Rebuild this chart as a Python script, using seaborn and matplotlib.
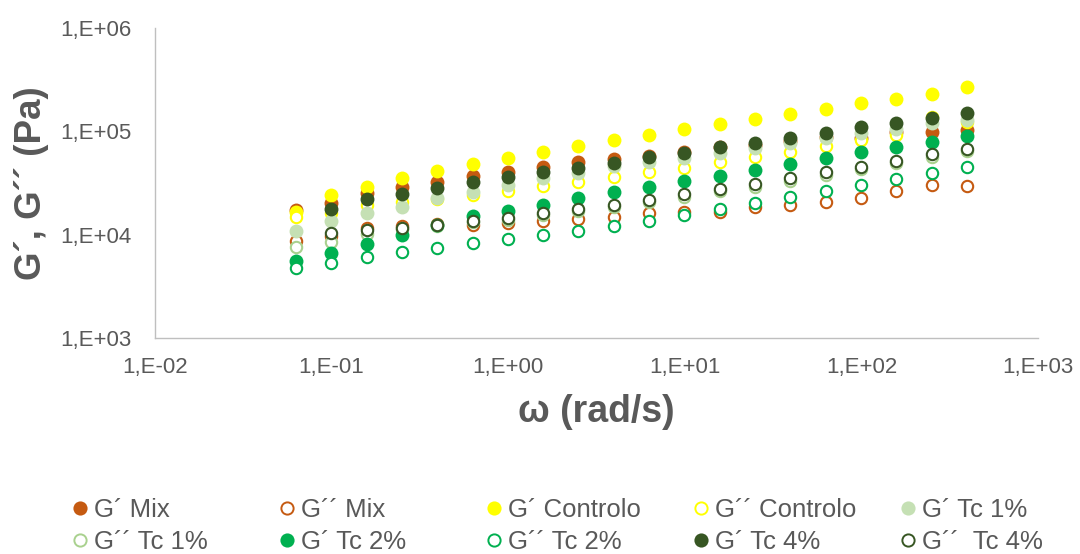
import numpy as np
import pandas as pd
import matplotlib
matplotlib.use("Agg")
import matplotlib.pyplot as plt
from matplotlib.lines import Line2D
from matplotlib.ticker import LogLocator, FuncFormatter, NullFormatter
import seaborn as sns

nan = np.nan

# Angular frequency sweep (rad/s)
omega = [0.0628, 0.0995, 0.158, 0.250, 0.396, 0.628, 0.995, 1.58, 2.50, 3.96,
         6.28, 9.95, 15.8, 25.0, 39.6, 62.8, 99.5, 158, 250, 396]

# Storage (G´) and loss (G´´) moduli, Pa
g1_mix = [17500, 20400, 25100, 29100, 32500, 36900, 40600, 44800, 50800, 54000,
          57700, 63000, 70500, 73700, 80500, 88100, 86100, 98400, 99100, 103000]
g2_mix = [8670, 9690, 11600, 12100, 12700, 12400, 12900, 13600, 14100, 14900,
          16100, 16400, 16700, 18600, 19400, 20800, 22700, 26600, 30200, 29700]
g1_ctrl = [16700, 24200, 28700, 35100, 41300, 47900, 55500, 63500, 72100, 82400,
           92100, 104500, 117700, 131500, 146900, 164400, 186700, 204200, 229600, 266700]
g2_ctrl = [14700, 16200, 19400, 20800, 22000, 24200, 26600, 29500, 32500, 35900,
           40100, 44500, 50100, 56800, 63500, 72100, 82400, 92100, 138400, 123900]
g1_tc1 = [10900, 13600, 16300, 18600, 22700, 25600, 30200, 35300, 39400, 46100,
          50800, 55200, 62100, 68900, 77100, 86100, 95700, 104500, 120300, 128600]
g2_tc1 = [7630, 8530, 10100, 11300, 12100, 13200, 13800, 15500, 16900, 18500,
          20700, 23100, 26400, 29200, 33000, 37800, 43200, 49300, 57000, 64400]
g1_tc2 = [5590, 6680, 8050, 9910, 12400, 15100, 17000, 19400, 22400, 26000,
          29100, 33000, 37200, 42200, 48200, 54800, 63500, 71000, 79300, 90600]
g2_tc2 = [4720, 5350, 6110, 6830, 7470, 8240, 9000, 9910, 10900, 12100,
          13600, 15500, 17600, 20100, 23000, 26400, 30200, 34300, 39700, 45400]
g1_tc4 = [nan, 17600, 22000, 24700, 28100, 32100, 36400, 40100, 44500, 49700,
          56000, 62100, 70000, 77600, 86700, 95700, 109300, 121100, 133600, 149300]
g2_tc4 = [nan, 10400, 11100, 11700, 12400, 13500, 14400, 16100, 17600, 19400,
          21600, 24500, 27600, 30900, 35100, 40100, 45400, 51900, 60300, 67400]

labels = ["G´ Mix", "G´´ Mix", "G´ Controlo", "G´´ Controlo", "G´ Tc 1%",
          "G´´ Tc 1%", "G´ Tc 2%", "G´´ Tc 2%", "G´ Tc 4%", "G´´  Tc 4%"]
values = [g1_mix, g2_mix, g1_ctrl, g2_ctrl, g1_tc1, g2_tc1, g1_tc2, g2_tc2, g1_tc4, g2_tc4]
colors = ["#C55A11", "#C55A11", "#FFFF00", "#FFFF00", "#C5E0B4",
          "#A9D18E", "#00B050", "#00B050", "#375623", "#375623"]
filled = [True, False, True, False, True, False, True, False, True, False]

df = pd.concat(
    [pd.DataFrame({"omega": omega, "G": v, "serie": lab}) for lab, v in zip(labels, values)],
    ignore_index=True,
)

sns.set_style("white")
plt.rcParams["font.family"] = ["Liberation Sans", "DejaVu Sans"]
TXT = "#595959"
AX = "#BFBFBF"

fig = plt.figure(figsize=(10.8, 5.54), dpi=100)
ax = fig.add_axes([155 / 1080, 1 - 338 / 554, 883 / 1080, 310 / 554])

for i, (lab, col, fill) in enumerate(zip(labels, colors, filled)):
    sub = df[df["serie"] == lab]
    if fill:
        sns.scatterplot(data=sub, x="omega", y="G", ax=ax, s=100, color=col,
                        edgecolor=col, linewidth=0, legend=False, zorder=3 + i)
    else:
        sns.scatterplot(data=sub, x="omega", y="G", ax=ax, s=67, color="white",
                        edgecolor=col, linewidth=1.5, legend=False, zorder=3 + i)

ax.set_xscale("log")
ax.set_yscale("log")
ax.set_xlim(1e-2, 1e3)
ax.set_ylim(1e3, 1e6)


def excel_sci(v, pos):
    k = int(round(np.log10(v)))
    return f"1,E{k:+03d}"


for axis in (ax.xaxis, ax.yaxis):
    axis.set_major_locator(LogLocator(base=10, numticks=20))
    axis.set_minor_locator(LogLocator(base=10, subs=np.arange(2, 10), numticks=20))
    axis.set_major_formatter(FuncFormatter(excel_sci))
    axis.set_minor_formatter(NullFormatter())

ax.tick_params(axis="both", which="both", direction="in", color=AX, width=0.9,
               labelcolor=TXT, labelsize=16)
ax.tick_params(axis="both", which="major", length=3.6)
ax.tick_params(axis="both", which="minor", length=2.4)
ax.tick_params(axis="y", which="major", pad=17)
ax.tick_params(axis="x", which="major", pad=13.5)
ax.tick_params(top=False, right=False, which="both")

for side in ("top", "right"):
    ax.spines[side].set_visible(False)
for side in ("left", "bottom"):
    ax.spines[side].set_color(AX)
    ax.spines[side].set_linewidth(1.0)

ax.set_xlabel("ω (rad/s)", fontsize=27, fontweight="bold", color=TXT, va="center")
ax.xaxis.set_label_coords(0.5, (338 - 411.5) / 310)
ax.set_ylabel("G´, G´´ (Pa)", fontsize=26.5, fontweight="bold", color=TXT, va="center")
ax.yaxis.set_label_coords((31.5 - 155) / 883, 0.5)

# legend: five columns, two rows
fs = 18.5
fs_px = fs * 100 / 72
hl = 0.5
for i, (lab, col, fill) in enumerate(zip(labels, colors, filled)):
    row, colidx = divmod(i, 5)
    cx = 80 + 207 * colidx
    cy = [508.0, 539.5][row]
    if fill:
        h = Line2D([], [], marker="o", linestyle="none", markersize=10.2,
                   markerfacecolor=col, markeredgecolor=col, markeredgewidth=0)
    else:
        h = Line2D([], [], marker="o", linestyle="none", markersize=8.8,
                   markerfacecolor="white", markeredgecolor=col, markeredgewidth=1.4)
    fig.legend([h], [lab], loc="center left",
               bbox_to_anchor=((cx - hl * fs_px / 2) / 1080, 1 - (cy + 2.4) / 554),
               frameon=False, fontsize=fs, handlelength=hl, handletextpad=0.28,
               borderpad=0, borderaxespad=0, labelcolor=TXT)

fig.savefig("out.png", dpi=100)
